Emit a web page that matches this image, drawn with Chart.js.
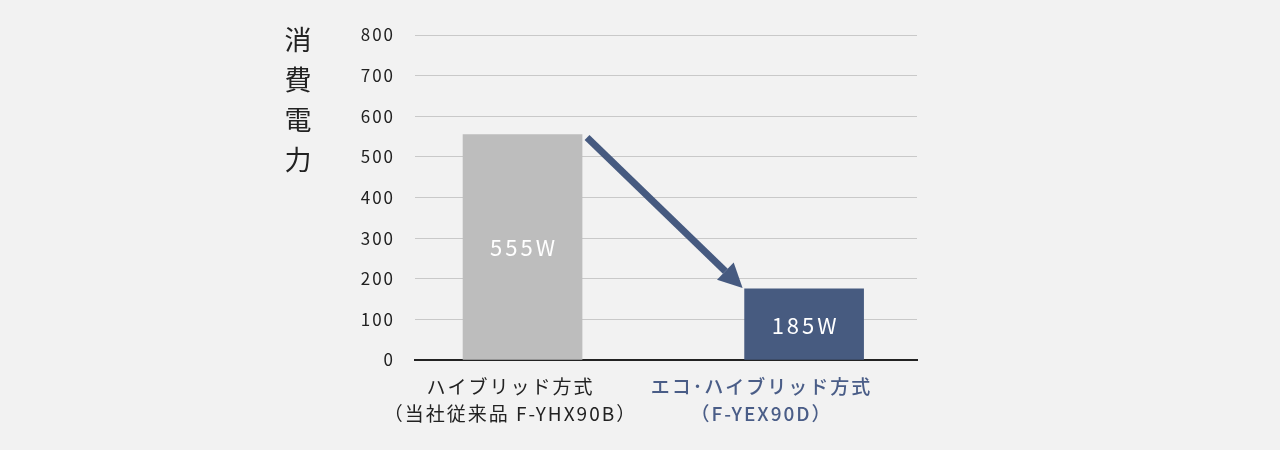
<!DOCTYPE html>
<html lang="ja">
<head>
<meta charset="utf-8">
<script src="https://cdn.jsdelivr.net/npm/chart.js@4"></script>
<style>
  html, body { margin: 0; padding: 0; background: #f2f2f2; }
  #wrap { position: relative; width: 1280px; height: 450px; }
  #yTitle {
    position: absolute; left: 283px; top: 19px; width: 30px;
    font-family: 'Noto Sans CJK JP', sans-serif; font-size: 27px;
    line-height: 40px; color: #222; text-align: center;
  }
</style>
</head>
<body>
<div id="wrap">
  <canvas id="chart" width="1280" height="450"></canvas>
  <div id="yTitle">消<br>費<br>電<br>力</div>
</div>
<script>
// ===== データ =====
const categories = [['ハイブリッド方式', '（当社従来品 F-YHX90B）'], ['エコ･ハイブリッド方式', '（F-YEX90D）']];
const positions = [0, 1];
const watts = [555, 175];
const valueLabels = ['555W', '185W'];
const yTicks = [0, 100, 200, 300, 400, 500, 600, 700, 800];

const barColors = ['#bdbdbd', '#475b80'];
const labelColors = ['#222222', '#4a5d87'];
const labelWeights = [400, 500];
const fontFamily = "'Noto Sans CJK JP', 'Noto Sans', sans-serif";

// 棒の中の値ラベルと矢印
const barDecor = {
    id: 'barDecor',
    afterDatasetsDraw(chart) {
        const ctx = chart.ctx;
        const bars = chart.getDatasetMeta(0).data;
        ctx.save();
        ctx.letterSpacing = '3px';
        ctx.font = '22px ' + fontFamily;
        ctx.fillStyle = '#ffffff';
        ctx.textAlign = 'center';
        ctx.textBaseline = 'middle';
        bars.forEach((b, i) => {
            ctx.fillText(valueLabels[i], b.x + 1.5, (b.y + b.base) / 2 + 1);
        });

        // 矢印
        const a = bars[0], c = bars[1];
        const x1 = a.x + a.width / 2 + 5, y1 = a.y + 3;
        const x2 = c.x - c.width / 2 - 2, y2 = c.y - 1;
        const ang = Math.atan2(y2 - y1, x2 - x1);
        const head = 24, half = 12;
        const bx = x2 - head * Math.cos(ang), by = y2 - head * Math.sin(ang);
        ctx.strokeStyle = '#465a80';
        ctx.fillStyle = '#465a80';
        ctx.lineWidth = 7;
        ctx.beginPath();
        ctx.moveTo(x1, y1);
        ctx.lineTo(bx, by);
        ctx.stroke();
        ctx.beginPath();
        ctx.moveTo(x2, y2);
        ctx.lineTo(bx + half * Math.sin(ang), by - half * Math.cos(ang));
        ctx.lineTo(bx - half * Math.sin(ang), by + half * Math.cos(ang));
        ctx.closePath();
        ctx.fill();
        ctx.restore();
    }
};

const spacing = {
    id: 'spacing',
    beforeDraw(chart) { chart.ctx.letterSpacing = '2px'; }
};

new Chart(document.getElementById('chart'), {
    type: 'bar',
    data: {
        datasets: [{
            data: positions.map((p, i) => ({ x: p, y: watts[i] })),
            backgroundColor: barColors,
            barThickness: 119,
            xAxisID: 'x',
            yAxisID: 'y'
        }]
    },
    options: {
        responsive: false,
        animation: false,
        devicePixelRatio: 1,
        layout: { padding: { left: 355, right: 363, top: 35, bottom: 0 } },
        plugins: { legend: { display: false }, tooltip: { enabled: false } },
        scales: {
            x: { type: 'linear', display: false, offset: false, min: -0.382, max: 1.401 },
            cat: {
                type: 'category',
                position: 'bottom',
                labels: categories,
                offset: true,
                grid: { display: false, drawTicks: false },
                border: { color: '#222', width: 2 },
                ticks: {
                    labelOffset: -30,
                    padding: 13,
                    color: ctx => labelColors[ctx.index],
                    font: ctx => ({ family: fontFamily, size: 19, lineHeight: 1.42, weight: labelWeights[ctx.index] })
                },
                afterFit: s => { s.height = 90; }
            },
            y: {
                min: 0, max: 800,
                afterBuildTicks: s => { s.ticks = yTicks.map(v => ({ value: v })); },
                grid: { color: '#c9c9c9', lineWidth: 1, drawTicks: false },
                border: { display: false },
                ticks: {
                    padding: 20,
                    color: '#222',
                    font: { family: fontFamily, size: 17 }
                },
                afterFit: s => { s.width = 60; }
            }
        }
    },
    plugins: [spacing, barDecor]
});
</script>
</body>
</html>
